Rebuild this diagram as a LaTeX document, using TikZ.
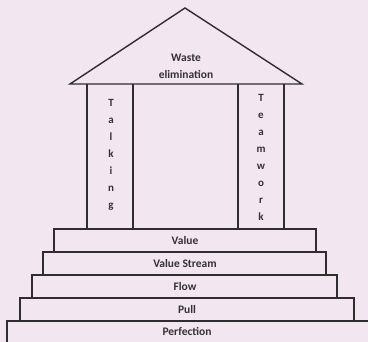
\documentclass[tikz,border=0pt]{standalone}
\usepackage{fontspec}
\setmainfont{Carlito}
\begin{document}
\begin{tikzpicture}[x=1pt,y=-1pt,
  ln/.style={draw=black!82,line width=1.4pt},
  lbl/.style={font=\bfseries\fontsize{11.5}{12}\selectfont,text=black!80,inner sep=0pt},
  vlbl/.style={font=\bfseries\fontsize{11}{17}\selectfont,text=black!80,inner sep=0pt,align=center}]
\definecolor{bgc}{HTML}{F2E6F0}
\fill[bgc] (0,0) rectangle (368,342);
\useasboundingbox (0,0) rectangle (368,342);
% steps
\draw[ln] (7,344) -- (7,321) -- (370,321);
\draw[ln] (20,321) -- (20,298) -- (354,298) -- (354,321);
\draw[ln] (32,298) -- (32,275) -- (337,275) -- (337,298);
\draw[ln] (43,275) -- (43,252) -- (326,252) -- (326,275);
\draw[ln] (54,252) -- (54,229) -- (316,229) -- (316,252);
% pillars
\draw[ln] (87,84) -- (87,229);
\draw[ln] (133,84) -- (133,229);
\draw[ln] (238,84) -- (238,229);
\draw[ln] (284,84) -- (284,229);
% roof
\draw[ln,line join=miter] (70,84) -- (185,8) -- (302,84) -- cycle;
% texts
\node[lbl] (w1) at (186,58) {Waste};
\node[lbl] (w2) at (186,75) {elimination};
\node[vlbl,anchor=north] (tk) at (111,99) {T\\a\\l\\k\\i\\n\\g};
\node[vlbl,anchor=north] (tw) at (261,94) {T\\e\\a\\m\\w\\o\\r\\k};
\node[lbl] (s1) at (185,240.5) {Value};
\node[lbl] (s2) at (185,263.5) {Value Stream};
\node[lbl] (s3) at (185,286.5) {Flow};
\node[lbl] (s4) at (187,309.5) {Pull};
\node[lbl] (s5) at (187,332) {Perfection};
\end{tikzpicture}
\end{document}
